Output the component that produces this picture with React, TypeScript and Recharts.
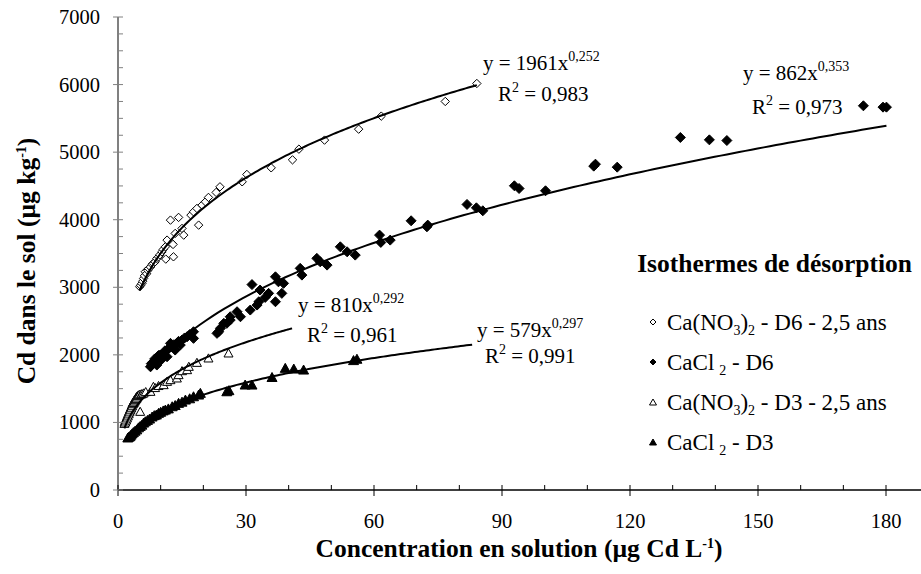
import React from "react";
import { ComposedChart, Scatter, XAxis, YAxis } from "recharts";

// Ca(NO3)2 - D6 - 2,5 ans (open diamonds)
const nitrateD6: [number, number][] = [
  [5.1, 3008], [5.3, 3030], [5.6, 3057], [5.8, 3090], [6.0, 3131], [6.2, 3170], [6.4, 3230],
  [6.7, 3200], [7.0, 3250], [7.2, 3279], [7.6, 3300], [8.0, 3340], [8.3, 3353], [8.7, 3378],
  [9.1, 3427], [9.5, 3451], [9.8, 3480], [10.3, 3525], [10.6, 3560], [11.1, 3599], [11.2, 3417],
  [11.5, 3698], [12.3, 3994], [12.7, 3649], [12.9, 3634], [13.0, 3451], [13.4, 3797], [14.2, 4034],
  [15.0, 3871], [15.4, 3772], [17.1, 4068], [17.7, 4117], [18.5, 4167], [18.9, 3920], [19.7, 4216],
  [20.5, 4265], [21.2, 4330], [23.0, 4404], [23.9, 4487], [29.1, 4561], [30.2, 4670], [35.9, 4768],
  [40.9, 4886], [42.4, 5044], [48.4, 5178], [56.4, 5340], [61.7, 5533], [76.7, 5750], [84.1, 6016],
];

// CaCl2 - D6 (filled diamonds)
const chlorideD6: [number, number][] = [
  [7.6, 1824], [7.8, 1870], [8.3, 1898], [8.6, 1940], [9.1, 1849], [9.1, 1948], [9.5, 1990],
  [9.9, 1997], [10.2, 1930], [10.7, 2022], [11.0, 2060], [11.5, 1972], [11.5, 2071], [12.0, 2100],
  [12.3, 2170], [12.7, 2120], [13.1, 2150], [13.4, 2071], [13.8, 2170], [14.2, 2200], [14.6, 2145],
  [15.0, 2219], [15.6, 2250], [16.2, 2268], [16.8, 2300], [17.7, 2342], [17.7, 2244],
  [23.2, 2318], [23.6, 2342], [24.0, 2392], [24.8, 2466], [25.5, 2466], [26.3, 2515], [26.3, 2564],
  [27.9, 2638], [28.7, 2564], [31.0, 2663], [31.4, 3040], [32.6, 2737], [33.0, 2786], [33.3, 2959],
  [34.5, 2850], [35.3, 2910], [36.9, 2786], [36.9, 3155], [37.6, 3081], [38.4, 2910], [38.8, 3058],
  [42.7, 3280], [43.1, 3180], [46.6, 3428], [47.4, 3377], [49.0, 3328], [52.1, 3599], [53.7, 3525],
  [55.6, 3476], [61.3, 3772], [61.6, 3664], [63.8, 3698], [68.7, 3984], [72.4, 3895], [72.6, 3920],
  [81.8, 4226], [84.0, 4176], [85.5, 4132], [92.9, 4502], [94.0, 4462], [100.2, 4428], [111.5, 4793],
  [111.9, 4822], [117.0, 4778], [131.8, 5217], [138.6, 5182], [142.7, 5172], [174.7, 5686],
  [179.3, 5666], [180.1, 5666],
];

// Ca(NO3)2 - D3 - 2,5 ans (open triangles)
const nitrateD3: [number, number][] = [
  [1.5, 980], [1.6, 1010], [1.7, 1000], [1.8, 1040], [1.9, 1030], [2.0, 1070], [2.1, 1060],
  [2.2, 1100], [2.3, 1090], [2.4, 1130], [2.5, 1120], [2.6, 1160], [2.7, 1150], [2.8, 1190],
  [2.9, 1180], [3.0, 1220], [3.1, 1210], [3.2, 1250], [3.3, 1240], [3.4, 1280], [3.5, 1270],
  [3.6, 1300], [3.7, 1290], [3.8, 1320], [3.9, 1310], [4.0, 1340], [4.1, 1330], [4.2, 1360],
  [4.3, 1350], [4.4, 1380], [4.5, 1370], [4.7, 1395], [4.8, 1400], [5.0, 1410], [5.2, 1158],
  [5.4, 1415], [5.6, 1420], [6.0, 1430], [6.5, 1450], [7.6, 1454], [8.3, 1528], [8.7, 1510],
  [9.5, 1540], [10.7, 1553], [11.5, 1602], [12.3, 1627], [13.8, 1652], [14.2, 1701], [15.0, 1760],
  [16.2, 1775], [16.6, 1824], [18.5, 1883], [21.2, 1948], [25.9, 2022],
];

// CaCl2 - D3 (filled triangles)
const chlorideD3: [number, number][] = [
  [2.3, 770], [2.5, 780], [2.8, 790], [3.0, 810], [3.3, 830], [3.6, 850], [4.0, 870], [4.4, 890],
  [4.8, 920], [5.2, 940], [5.6, 960], [6.0, 990], [6.4, 1010], [6.9, 1030], [7.4, 1050], [8.0, 1080],
  [8.5, 1100], [9.0, 1110], [9.5, 1134], [10.0, 1150], [10.6, 1170], [11.1, 1183], [11.8, 1200],
  [12.7, 1232], [13.4, 1250], [14.2, 1282], [15.0, 1300], [15.8, 1331], [16.8, 1350], [17.7, 1380],
  [18.9, 1405], [19.3, 1430], [25.5, 1454], [26.0, 1470], [29.8, 1553], [31.4, 1553], [36.1, 1665],
  [39.2, 1800], [41.2, 1790], [43.5, 1775], [55.2, 1915], [56.0, 1935],
];

// power trendlines y = a x^b, as printed on the chart, with the x span drawn
const fitA = [1961, 862, 810, 579];
const fitB = [0.252, 0.353, 0.292, 0.297];
const fitFrom = [5.1, 7.6, 1.5, 2.3];
const fitTo = [84.1, 180.1, 40.8, 83];

const xTicks = [0, 10, 20, 30, 40, 50, 60, 70, 80, 90, 100, 110, 120, 130, 140, 150, 160, 170, 180];
const yTicks = Array.from({ length: 29 }, (_, i) => i * 250);

const FONT = "Liberation Serif, Times New Roman, DejaVu Serif, serif";
const serif = { fontFamily: FONT };

const toPts = (arr: [number, number][]) => arr.map(([x, y]) => ({ x, y }));

function powerCurve(i: number) {
  const n = 120;
  const pts = [];
  for (let k = 0; k <= n; k++) {
    const x = fitFrom[i] + ((fitTo[i] - fitFrom[i]) * k) / n;
    pts.push({ x, y: fitA[i] * Math.pow(x, fitB[i]) });
  }
  return pts;
}

const diamond = (fill: string, r: number) => (p: any) => (
  <polygon
    points={`${p.cx},${p.cy - r} ${p.cx + r},${p.cy} ${p.cx},${p.cy + r} ${p.cx - r},${p.cy}`}
    fill={fill}
    stroke="#000"
    strokeWidth={1}
  />
);

const triangle = (fill: string, r: number) => (p: any) => (
  <polygon
    points={`${p.cx},${p.cy - r} ${p.cx + r},${p.cy + r * 0.8} ${p.cx - r},${p.cy + r * 0.8}`}
    fill={fill}
    stroke="#000"
    strokeWidth={1}
  />
);

function XTick(props: any) {
  const { x, y, payload } = props;
  const major = payload.value % 30 === 0;
  return (
    <g>
      <line x1={x} x2={x} y1={y - 5} y2={major ? y + 6 : y} stroke="#000" strokeWidth={1} />
      {major && (
        <text x={x} y={y + 38} textAnchor="middle" fontSize={20.5} style={serif} fill="#000">
          {payload.value}
        </text>
      )}
    </g>
  );
}

function YTick(props: any) {
  const { x, y, payload } = props;
  const major = payload.value % 1000 === 0;
  return (
    <g>
      <line x1={major ? x - 5 : x} x2={x + 5} y1={y} y2={y} stroke="#808080" strokeWidth={1} />
      {major && (
        <text x={x - 18} y={y + 7} textAnchor="end" fontSize={20.5} style={serif} fill="#000">
          {payload.value}
        </text>
      )}
    </g>
  );
}

function Sup({ children }: { children: React.ReactNode }) {
  return (
    <tspan fontSize={14} dy={-9}>
      {children}
    </tspan>
  );
}

function Sub({ children, dx = 0 }: { children: React.ReactNode; dx?: number }) {
  return (
    <tspan fontSize={14} dx={dx} dy={5}>
      {children}
    </tspan>
  );
}

export default function App() {
  const fitLine = { stroke: "#000", strokeWidth: 2 };
  const noMark = () => <g />;
  return (
    <div
      style={{
        position: "absolute",
        left: 0,
        top: 0,
        width: 921,
        height: 574,
        background: "#fff",
        fontFamily: FONT,
      }}
    >
      <ComposedChart width={921} height={574} margin={{ top: 17, right: 0, bottom: 24, left: 18 }}>
        <XAxis
          type="number"
          dataKey="x"
          domain={[0, 188.2]}
          ticks={xTicks}
          interval={0}
          tickSize={0}
          tickMargin={0}
          tickLine={false}
          axisLine={{ stroke: "#000", strokeWidth: 1.5 }}
          tick={<XTick />}
          height={60}
          allowDataOverflow
        />
        <YAxis
          type="number"
          dataKey="y"
          domain={[0, 7000]}
          ticks={yTicks}
          interval={0}
          tickSize={0}
          tickMargin={0}
          tickLine={false}
          axisLine={{ stroke: "#808080", strokeWidth: 2 }}
          tick={<YTick />}
          width={100}
        />
        <Scatter data={toPts(chlorideD3)} shape={triangle("#000", 5)} isAnimationActive={false} />
        <Scatter data={toPts(nitrateD3)} shape={triangle("#fff", 4.5)} isAnimationActive={false} />
        <Scatter data={toPts(chlorideD6)} shape={diamond("#000", 5)} isAnimationActive={false} />
        <Scatter data={toPts(nitrateD6)} shape={diamond("#fff", 4.2)} isAnimationActive={false} />
        {[0, 1, 2, 3].map((i) => (
          <Scatter
            key={i}
            data={powerCurve(i)}
            line={fitLine}
            shape={noMark}
            isAnimationActive={false}
          />
        ))}
      </ComposedChart>
      <svg
        width={921}
        height={574}
        style={{ position: "absolute", left: 0, top: 0, pointerEvents: "none", fontFamily: FONT }}
        fill="#000"
      >
        {/* trendline equations */}
        <text x={483} y={70} fontSize={21}>
          y = 1961x<Sup>0,252</Sup>
        </text>
        <text x={498} y={101} fontSize={21}>
          R<Sup>2</Sup>
          <tspan dy={9}> = 0,983</tspan>
        </text>
        <text x={743} y={80} fontSize={21}>
          y = 862x<Sup>0,353</Sup>
        </text>
        <text x={752} y={114} fontSize={21}>
          R<Sup>2</Sup>
          <tspan dy={9}> = 0,973</tspan>
        </text>
        <text x={298} y={312} fontSize={21}>
          y = 810x<Sup>0,292</Sup>
        </text>
        <text x={307} y={342} fontSize={21}>
          R<Sup>2</Sup>
          <tspan dy={9}> = 0,961</tspan>
        </text>
        <text x={477} y={337} fontSize={21}>
          y = 579x<Sup>0,297</Sup>
        </text>
        <text x={485} y={363} fontSize={21}>
          R<Sup>2</Sup>
          <tspan dy={9}> = 0,991</tspan>
        </text>

        {/* legend */}
        <text x={912} y={272} fontSize={25.5} fontWeight="bold" textAnchor="end">
          Isothermes de désorption
        </text>
        <polygon points="653,319 656,322 653,325 650,322" fill="#fff" stroke="#000" strokeWidth={1} />
        <text x={667} y={330} fontSize={23}>
          Ca(NO<Sub>3</Sub>
          <tspan dy={-5}>)</tspan>
          <Sub>2</Sub>
          <tspan dy={-5}> - D6 - 2,5 ans</tspan>
        </text>
        <polygon points="653,359 656,362 653,365 650,362" fill="#000" stroke="#000" strokeWidth={1} />
        <text x={667} y={370} fontSize={23}>
          CaCl<Sub dx={5}>2</Sub>
          <tspan dy={-5}> - D6</tspan>
        </text>
        <polygon points="653,399 656.5,405 649.5,405" fill="#fff" stroke="#000" strokeWidth={1} />
        <text x={667} y={410} fontSize={23}>
          Ca(NO<Sub>3</Sub>
          <tspan dy={-5}>)</tspan>
          <Sub>2</Sub>
          <tspan dy={-5}> - D3 - 2,5 ans</tspan>
        </text>
        <polygon points="653,439 656.5,445 649.5,445" fill="#000" stroke="#000" strokeWidth={1} />
        <text x={667} y={450} fontSize={23}>
          CaCl<Sub dx={5}>2</Sub>
          <tspan dy={-5}> - D3</tspan>
        </text>

        {/* axis titles */}
        <text x={519} y={557} fontSize={25.5} fontWeight="bold" textAnchor="middle">
          Concentration en solution (µg Cd L<Sup>-1</Sup>
          <tspan dy={9}>)</tspan>
        </text>
        <text
          transform="translate(35,261) rotate(-90)"
          fontSize={25.5}
          fontWeight="bold"
          textAnchor="middle"
        >
          Cd dans le sol (µg kg<Sup>-1</Sup>
          <tspan dy={9}>)</tspan>
        </text>
      </svg>
    </div>
  );
}
